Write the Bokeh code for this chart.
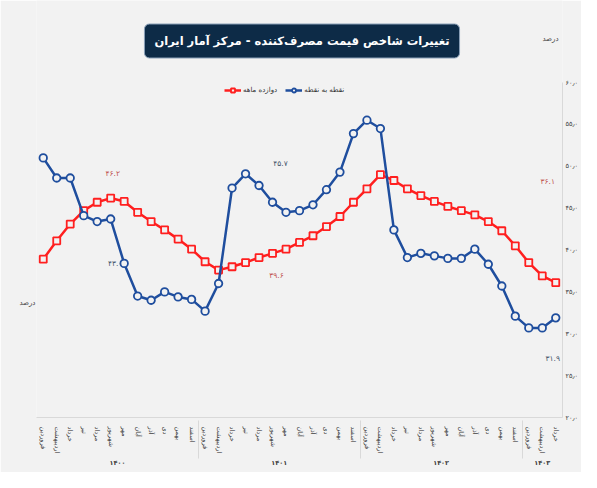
import math
from bokeh.plotting import figure
from bokeh.models import (FactorRange, FixedTicker, Legend, LegendItem, Label,
                          ColumnDataSource, Range1d, LinearAxis)
from bokeh.core.properties import value
from bokeh.embed import file_html
from bokeh.resources import INLINE

# ---------------- data ----------------
years = ["۱۴۰۰", "۱۴۰۱", "۱۴۰۲", "۱۴۰۳"]
months = ["فروردین", "اردیبهشت", "خرداد", "تیر", "مرداد", "شهریور",
          "مهر", "آبان", "آذر", "دی", "بهمن", "اسفند"]
months_per_year = [12, 12, 12, 3]

point_to_point = [51.0, 48.6, 48.6, 44.1, 43.4, 43.7, 38.4, 34.5, 34.0, 35.0, 34.4, 34.1,
                  32.7, 36.0, 47.4, 49.1, 47.7, 45.7, 44.5, 44.7, 45.4, 47.2, 49.3, 53.9,
                  55.5, 54.5, 42.4, 39.1, 39.6, 39.3, 39.0, 39.0, 40.1, 38.3, 35.7, 32.1,
                  30.7, 30.7, 31.9]
twelve_month = [38.9, 41.1, 43.1, 44.7, 45.7, 46.2, 45.8, 44.5, 43.4, 42.4, 41.3, 40.1,
                38.6, 37.6, 38.0, 38.5, 39.1, 39.6, 40.1, 40.9, 41.7, 42.8, 44.0, 45.7,
                47.3, 49.0, 48.3, 47.3, 46.5, 45.8, 45.2, 44.7, 44.2, 43.4, 42.3, 40.5,
                38.5, 36.9, 36.1]

y_ticks = [20, 25, 30, 35, 40, 45, 50, 55, 60]

series_names = ["دوازده ماهه", "نقطه به نقطه"]
title_text = "تغییرات شاخص قیمت مصرف‌کننده - مرکز آمار ایران"
unit_text = "درصد"

# labelled points (index into series) and their texts
labels_red = [5, 17, 38]
labels_red_text = ["۴۶.۲", "۳۹.۶", "۳۶.۱"]
labels_blue = [6, 17, 38]
labels_blue_text = ["۴۳.۰", "۴۵.۷", "۳۱.۹"]

# ---------------- layout / styling ----------------
FONT = "DejaVu Sans"
BG = "#f2f2f2"
RED = "#ff1f1f"
BLUE = "#1f4e9e"
RED_TXT = "#c0504d"
BLUE_TXT = "#44546a"
AX = "#d9d9d9"

W, H = 581, 472
LEFT, BOTTOM = 36, 55          # borders (px)
FRAME_H = H - BOTTOM           # frame spans from top of figure
TOP60_PX = 82                  # pixel row of the 60 tick
ymin, ymax_tick = 20, 60
y_top = (ymax_tick * FRAME_H - ymin * TOP60_PX) / (FRAME_H - TOP60_PX)
px_per_unit = (FRAME_H - TOP60_PX) / (ymax_tick - ymin)

FA = str.maketrans("0123456789", "۰۱۲۳۴۵۶۷۸۹")
def fa(v, nd=1):
    return (f"{v:.{nd}f}").replace(".", "٫").translate(FA)

factors = [(y, m) for y, n in zip(years, months_per_year) for m in months[:n]]

p = figure(width=W, height=H,
           x_range=FactorRange(*factors, factor_padding=0, group_padding=0,
                               subgroup_padding=0, range_padding=0),
           y_range=Range1d(ymin, y_top), y_axis_location="right",
           output_backend="svg", toolbar_location=None,
           background_fill_color=BG, border_fill_color=BG,
           outline_line_color=None,
           min_border_left=LEFT, min_border_top=0, min_border_bottom=BOTTOM,
           min_border_right=0)

p.xgrid.grid_line_color = None
p.ygrid.grid_line_color = None

# y axis (right)
ya = p.yaxis[0]
ya.ticker = FixedTicker(ticks=y_ticks)
ya.bounds = (ymin, ymax_tick)
ya.major_label_overrides = {t: fa(t) for t in y_ticks}
ya.axis_line_color = AX
ya.major_tick_line_color = None
ya.minor_tick_line_color = None
ya.major_tick_out = 0
ya.major_tick_in = 0
ya.major_label_text_font = FONT
ya.major_label_text_font_size = "6.5px"
ya.major_label_text_color = "#404040"
ya.major_label_standoff = 3

# left "unit" label, as a single tick label of a bare left axis
unit_row_px = 302
unit_val = ymin + (FRAME_H - unit_row_px) / px_per_unit
la = LinearAxis(ticker=FixedTicker(ticks=[unit_val]),
                major_label_overrides={unit_val: unit_text},
                axis_line_color=None, major_tick_line_color=None,
                minor_tick_line_color=None, major_label_standoff=1,
                major_tick_out=0, major_tick_in=0,
                major_label_text_font=FONT, major_label_text_font_size="7px",
                major_label_text_color="#404040")
p.add_layout(la, "left")

# x axis
xa = p.xaxis[0]
xa.axis_line_color = AX
xa.major_tick_line_color = None
xa.minor_tick_line_color = None
xa.major_label_orientation = "vertical"
xa.major_label_text_font = FONT
xa.major_label_text_font_size = "6.5px"
xa.major_label_text_color = "#404040"
xa.major_label_standoff = 3
xa.group_text_font = FONT
xa.group_text_font_size = "6.5px"
xa.group_text_font_style = "bold"
xa.group_text_color = "#404040"
xa.group_label_orientation = "horizontal"
xa.separator_line_color = AX
xa.separator_line_width = 1

src = ColumnDataSource(dict(x=factors, red=twelve_month, blue=point_to_point))

rl = p.line("x", "red", source=src, line_color=RED, line_width=2.5)
rs = p.scatter("x", "red", source=src, marker="square", size=7,
               line_color=RED, line_width=1.8, fill_color=BG)
bl = p.line("x", "blue", source=src, line_color=BLUE, line_width=2.5)
bs = p.scatter("x", "blue", source=src, marker="circle", size=7.5,
               line_color=BLUE, line_width=1.8, fill_color=BG)

# data labels
red_src = ColumnDataSource(dict(
    x=[factors[i] for i in labels_red],
    y=[twelve_month[i] for i in labels_red],
    t=labels_red_text,
    dx=[2, 4, -8], dy=[-25, 22, -101]))
p.text("x", "y", text="t", source=red_src, x_offset="dx", y_offset="dy",
       text_font=value(FONT), text_font_size="7.5px", text_color=RED_TXT,
       text_align="center", text_baseline="middle")
blue_src = ColumnDataSource(dict(
    x=[factors[i] for i in labels_blue],
    y=[point_to_point[i] for i in labels_blue],
    t=labels_blue_text,
    dx=[-9, 8, -3], dy=[0, -39, 41]))
p.text("x", "y", text="t", source=blue_src, x_offset="dx", y_offset="dy",
       text_font=value(FONT), text_font_size="7.5px", text_color=BLUE_TXT,
       text_align="center", text_baseline="middle")

# legend (screen position relative to frame bottom-left)
legend = Legend(items=[LegendItem(label=series_names[0], renderers=[rl, rs]),
                       LegendItem(label=series_names[1], renderers=[bl, bs])],
                orientation="horizontal", location=(224 - LEFT, FRAME_H - 95),
                background_fill_alpha=0, border_line_color=None,
                label_text_font=FONT, label_text_font_size="7px",
                label_text_color="#303030",
                glyph_width=17, glyph_height=10, padding=0, spacing=8,
                label_standoff=2, margin=0)
p.add_layout(legend)

# title box
p.add_layout(Label(x=301.5 - LEFT, y=FRAME_H - 40.5, x_units="screen", y_units="screen",
                   text=title_text, text_font=FONT, text_font_size="11.5px",
                   text_font_style="bold", text_color="white",
                   text_align="center", text_baseline="middle",
                   background_fill_color="#0d2b47", border_line_color="#8aa0b8",
                   border_line_width=1, border_radius=5, padding=10))

# top-right unit label (centre-aligned, right-to-left text)
p.add_layout(Label(x=W - LEFT - 31, y=FRAME_H - 38, x_units="screen", y_units="screen",
                   text=unit_text, text_font=FONT, text_font_size="7px",
                   text_color="#404040", text_align="center", text_baseline="middle"))

open("out.html", "w").write(file_html(p, INLINE))
